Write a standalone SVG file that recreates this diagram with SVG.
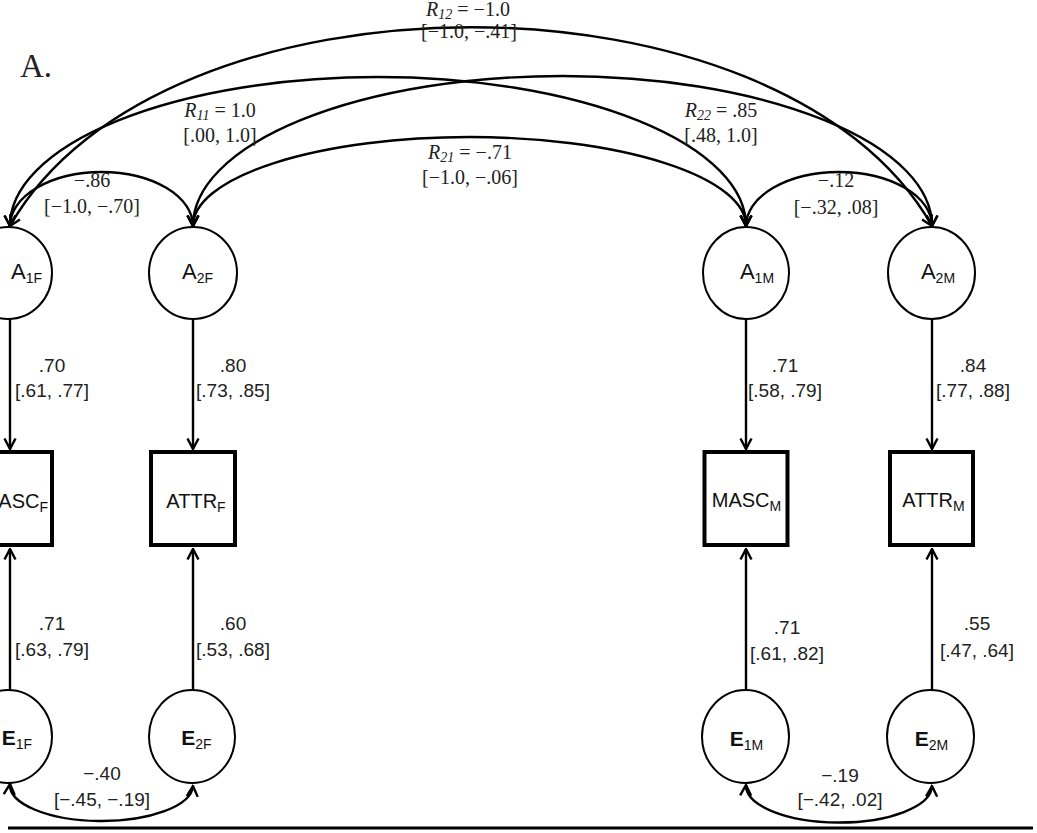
<svg xmlns="http://www.w3.org/2000/svg" width="1037" height="833" viewBox="0 0 1037 833">
<style>
.node{fill:#fff;stroke:#000;stroke-width:2}
.box{fill:#fff;stroke:#000;stroke-width:4}
.con{fill:none;stroke:#000;stroke-width:2.4}
.sans{font-family:"Liberation Sans",Arial,sans-serif;fill:#222}
.serif{font-family:"Liberation Serif","Times New Roman",serif;fill:#222}
.lbl{font-family:"Liberation Sans",Arial,sans-serif;font-size:22px;fill:#111}
.blbl{font-family:"Liberation Sans",Arial,sans-serif;font-size:20px;fill:#111}
.elbl{font-family:"Liberation Sans",Arial,sans-serif;font-size:21px;font-weight:bold;fill:#111}
.sub{font-size:14px;font-weight:normal}
.ld{font-size:19px;text-anchor:middle}
.cv{font-size:20px;text-anchor:middle}
</style>
<defs>
<marker id="arr" viewBox="0 0 14 14" refX="12.5" refY="7" markerWidth="14" markerHeight="14" orient="auto-start-reverse" markerUnits="userSpaceOnUse">
<path d="M2,1.5 L12.5,7 L2,12.5" fill="none" stroke="#000" stroke-width="2.4"/>
</marker>
</defs>
<rect x="0" y="0" width="1037" height="833" fill="#fff"/>
<text x="20" y="77" class="serif" font-size="33" fill="#111">A.</text>

<g id="connectors">
<path class="con" d="M10,226 C160,-39 782,-39 932,226" marker-start="url(#arr)" marker-end="url(#arr)"/>
<path class="con" d="M10,226 A368 149 0 0 1 746,226" marker-start="url(#arr)" marker-end="url(#arr)"/>
<path class="con" d="M193,226 A369.5 150 0 0 1 932,226" marker-start="url(#arr)" marker-end="url(#arr)"/>
<path class="con" d="M193,226 A276.5 89 0 0 1 746,226" marker-start="url(#arr)" marker-end="url(#arr)"/>
<path class="con" d="M10,226 A91.5 54 0 0 1 193,226" marker-start="url(#arr)" marker-end="url(#arr)"/>
<path class="con" d="M746,226 A93 54 0 0 1 932,226" marker-start="url(#arr)" marker-end="url(#arr)"/>
<path class="con" d="M10,319 L10,449" marker-end="url(#arr)"/>
<path class="con" d="M193,319 L193,449" marker-end="url(#arr)"/>
<path class="con" d="M746,319 L746,449" marker-end="url(#arr)"/>
<path class="con" d="M932,319 L932,449" marker-end="url(#arr)"/>
<path class="con" d="M10,690 L10,549" marker-end="url(#arr)"/>
<path class="con" d="M193,690 L193,549" marker-end="url(#arr)"/>
<path class="con" d="M746,690 L746,549" marker-end="url(#arr)"/>
<path class="con" d="M932,690 L932,549" marker-end="url(#arr)"/>
<path class="con" d="M10,784 A91.5 36 0 0 0 193,786" marker-start="url(#arr)" marker-end="url(#arr)"/>
<path class="con" d="M746,785 A93 37 0 0 0 932,786" marker-start="url(#arr)" marker-end="url(#arr)"/>

<text class="serif cv" x="468" y="16"><tspan font-style="italic">R</tspan><tspan font-style="italic" font-size="14" dy="3">12</tspan><tspan dy="-3"> = −1.0</tspan></text>
<text class="serif cv" x="469" y="38">[−1.0, −.41]</text>
<text class="serif cv" x="220" y="117"><tspan font-style="italic">R</tspan><tspan font-style="italic" font-size="14" dy="3">11</tspan><tspan dy="-3"> = 1.0</tspan></text>
<text class="serif cv" x="220" y="142">[.00, 1.0]</text>
<text class="serif cv" x="721" y="117"><tspan font-style="italic">R</tspan><tspan font-style="italic" font-size="14" dy="3">22</tspan><tspan dy="-3"> = .85</tspan></text>
<text class="serif cv" x="721" y="142">[.48, 1.0]</text>
<text class="serif cv" x="470" y="159"><tspan font-style="italic">R</tspan><tspan font-style="italic" font-size="14" dy="3">21</tspan><tspan dy="-3"> = −.71</tspan></text>
<text class="serif cv" x="470" y="184">[−1.0, −.06]</text>
<text class="serif cv" x="92" y="187">−.86</text>
<text class="serif cv" x="92" y="213">[−1.0, −.70]</text>
<text class="serif cv" x="836" y="187">−.12</text>
<text class="serif cv" x="836" y="214">[−.32, .08]</text>

<text class="sans ld" x="52" y="372">.70</text>
<text class="sans ld" x="52" y="397">[.61, .77]</text>
<text class="sans ld" x="233" y="372">.80</text>
<text class="sans ld" x="233" y="397">[.73, .85]</text>
<text class="sans ld" x="785" y="372">.71</text>
<text class="sans ld" x="785" y="397">[.58, .79]</text>
<text class="sans ld" x="973" y="372">.84</text>
<text class="sans ld" x="973" y="397">[.77, .88]</text>

<text class="sans ld" x="52" y="630">.71</text>
<text class="sans ld" x="52" y="656">[.63, .79]</text>
<text class="sans ld" x="233" y="630">.60</text>
<text class="sans ld" x="233" y="656">[.53, .68]</text>
<text class="sans ld" x="787" y="634">.71</text>
<text class="sans ld" x="787" y="660">[.61, .82]</text>
<text class="sans ld" x="977" y="630">.55</text>
<text class="sans ld" x="977" y="657">[.47, .64]</text>

<text class="sans ld" x="102" y="780">−.40</text>
<text class="sans ld" x="102" y="806">[−.45, −.19]</text>
<text class="sans ld" x="840" y="782">−.19</text>
<text class="sans ld" x="840" y="806">[−.42, .02]</text>
</g>

<line x1="8" y1="828" x2="1033" y2="828" stroke="#000" stroke-width="3"/>

<g id="A1F"><ellipse class="node" cx="8" cy="273" rx="44" ry="46"/><text class="lbl" x="42" y="279" text-anchor="end">A<tspan class="sub" font-size="15" dy="4">1F</tspan></text></g>
<g id="A2F"><ellipse class="node" cx="193" cy="273" rx="44" ry="46"/><text class="lbl" x="197.5" y="279" text-anchor="middle">A<tspan class="sub" dy="4">2F</tspan></text></g>
<g id="A1M"><ellipse class="node" cx="746" cy="273" rx="43" ry="46"/><text class="lbl" x="757" y="279" text-anchor="middle">A<tspan class="sub" dy="4">1M</tspan></text></g>
<g id="A2M"><ellipse class="node" cx="931.5" cy="273" rx="43.5" ry="46"/><text class="lbl" x="938" y="279" text-anchor="middle">A<tspan class="sub" dy="4">2M</tspan></text></g>

<g id="MASCF"><rect class="box" x="-34" y="452" width="86" height="93"/><text class="blbl" x="48" y="508" text-anchor="end">MASC<tspan class="sub" dy="4">F</tspan></text></g>
<g id="ATTRF"><rect class="box" x="151" y="452" width="84" height="93"/><text class="blbl" x="196" y="508" text-anchor="middle">ATTR<tspan class="sub" dy="4">F</tspan></text></g>
<g id="MASCM"><rect class="box" x="704.5" y="452" width="83" height="93"/><text class="blbl" x="746.5" y="507" text-anchor="middle">MASC<tspan class="sub" dy="4">M</tspan></text></g>
<g id="ATTRM"><rect class="box" x="890" y="452" width="83" height="93"/><text class="blbl" x="933.5" y="507" text-anchor="middle">ATTR<tspan class="sub" dy="4">M</tspan></text></g>

<g id="E1F"><ellipse class="node" cx="8" cy="736.5" rx="44" ry="46.5"/><text class="elbl" x="32" y="745" text-anchor="end">E<tspan class="sub" dy="4">1F</tspan></text></g>
<g id="E2F"><ellipse class="node" cx="192" cy="736.5" rx="43" ry="46.5"/><text class="elbl" x="196.5" y="745" text-anchor="middle">E<tspan class="sub" dy="4">2F</tspan></text></g>
<g id="E1M"><ellipse class="node" cx="745.5" cy="736.5" rx="43.5" ry="46.5"/><text class="elbl" x="746.5" y="746" text-anchor="middle">E<tspan class="sub" dy="4">1M</tspan></text></g>
<g id="E2M"><ellipse class="node" cx="930.5" cy="736.5" rx="43.5" ry="46.5"/><text class="elbl" x="931.5" y="746" text-anchor="middle">E<tspan class="sub" dy="4">2M</tspan></text></g>
</svg>
